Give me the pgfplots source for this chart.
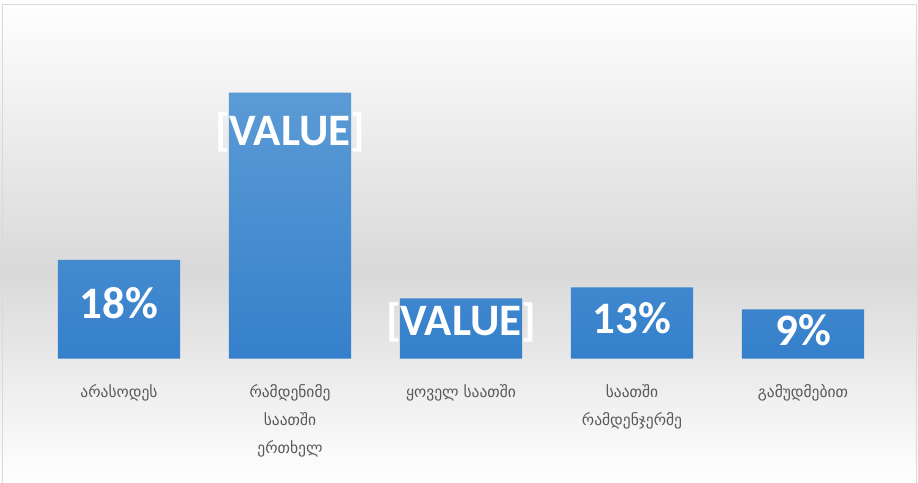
\documentclass[border=0pt]{standalone}
\usepackage{pgfplots}
\pgfplotsset{compat=1.18}
\usepackage{fontspec}
\setmainfont{Carlito}
\newfontfamily\geo{DejaVu Sans}
\definecolor{barTop}{HTML}{5B9BD5}
\definecolor{barBot}{HTML}{3580CB}
\definecolor{bgmid}{HTML}{D9D9D9}
\definecolor{frame}{HTML}{D9D9D9}
\definecolor{lab}{HTML}{595959}
\pgfdeclareverticalshading{bgshade}{100bp}{color(0bp)=(white); color(25bp)=(white); color(47bp)=(bgmid); color(75bp)=(white); color(100bp)=(white)}
\begin{document}
\begin{tikzpicture}
\path[use as bounding box] (0,0) rectangle (918bp,483bp);
\shade[shading=bgshade] (0,0) rectangle (918bp,483bp);
\draw[frame, line width=1bp] (2.5bp,-2bp) rectangle (916bp,478.5bp);
\begin{axis}[
  at={(33.5bp,124.3bp)}, anchor=south west,
  scale only axis, width=855bp, height=340bp,
  xmin=-0.5, xmax=4.5, ymin=0, ymax=62,
  axis line style={draw=none}, tick style={draw=none},
  ytick=\empty, xtick=data,
  xticklabels={{არასოდეს},{რამდენიმე\\საათში\\ერთხელ},{ყოველ საათში},{საათში\\რამდენჯერმე},{გამუდმებით}},
  xticklabel style={font=\geo\fontsize{15.5bp}{28bp}\selectfont, text=lab, align=center, anchor=north, yshift=-22bp},
  clip=false,
]
\addplot[ybar, bar width=0.7135, draw=none, shading=axis, top color=barTop, bottom color=barBot]
  coordinates {(0,18) (1,48.5) (2,11) (3,13) (4,9)};
\addplot[draw=none, mark=none, point meta=explicit symbolic,
  nodes near coords,
  every node near coord/.append style={anchor=center, text=white, font=\bfseries\fontsize{45bp}{50bp}\selectfont}]
  coordinates {(0,10.2) [18\%] (1,41.2) [{[VALUE]}] (2,6.7) [{[VALUE]}] (3,7.4) [13\%] (4,5.2) [9\%]};
\end{axis}
\end{tikzpicture}
\end{document}
